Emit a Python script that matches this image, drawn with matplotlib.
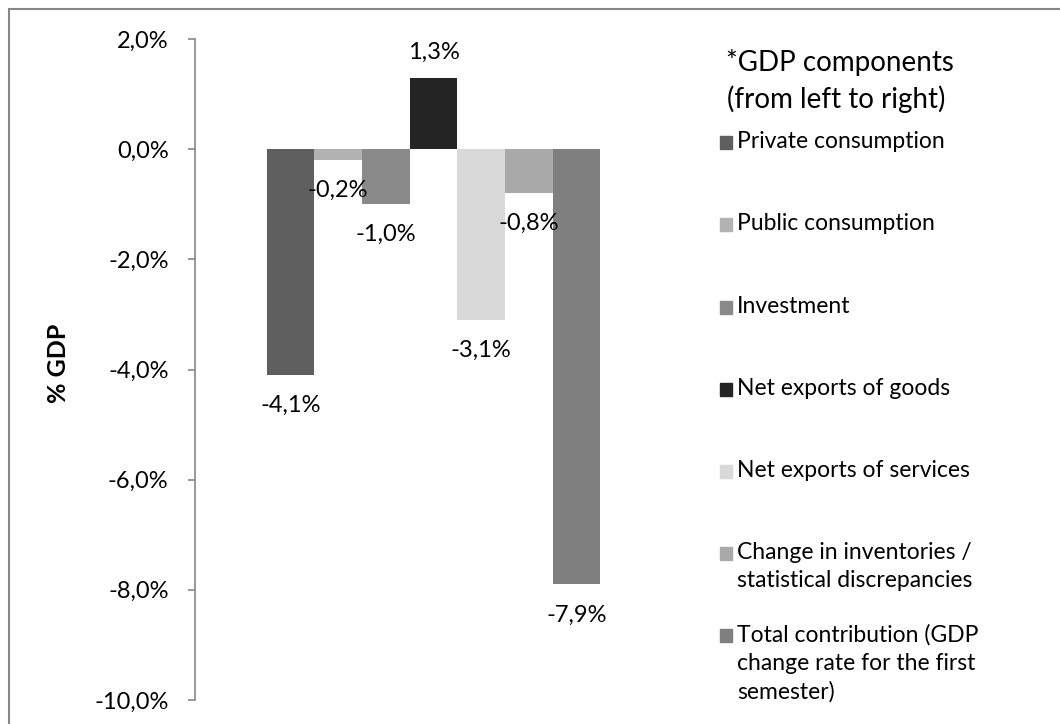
import matplotlib.pyplot as plt
from matplotlib.patches import Rectangle

components = ["Private consumption", "Public consumption", "Investment",
              "Net exports of goods", "Net exports of services",
              "Change in inventories /\nstatistical discrepancies",
              "Total contribution (GDP\nchange rate for the first\nsemester)"]
values = [-4.1, -0.2, -1.0, 1.3, -3.1, -0.8, -7.9]
colors = ["#5f5f5f", "#b2b2b2", "#898989", "#242424", "#d9d9d9", "#a9a9a9", "#7f7f7f"]
yticks = [-10, -8, -6, -4, -2, 0, 2]

plt.rcParams['font.family'] = ['Lato', 'DejaVu Sans']

W, H = 1060, 724
fig = plt.figure(figsize=(W / 100, H / 100), dpi=100)
ax = fig.add_axes([195 / W, 1 - 700 / H, 477 / W, 661 / H])

for i, v in enumerate(values):
    ax.bar(i, v, width=1.0, color=colors[i], label=components[i])
    lab = ("%.1f%%" % v).replace(".", ",")
    if v >= 0:
        ax.annotate(lab, (i, v), xytext=(0, 18), textcoords="offset points",
                    ha="center", va="center", fontsize=17)
    else:
        ax.annotate(lab, (i, v), xytext=(0, -22), textcoords="offset points",
                    ha="center", va="center", fontsize=17)

ax.set_xlim(-2, 8)
ax.set_ylim(-10, 2)
ax.set_yticks(yticks)
ax.set_yticklabels([("%.1f%%" % t).replace(".", ",") for t in yticks], fontsize=17)
ax.set_xticks([])
for s in ["top", "right", "bottom"]:
    ax.spines[s].set_visible(False)
ax.spines["left"].set_color("#868686")
ax.spines["left"].set_linewidth(1.2)
ax.tick_params(axis="y", direction="out", length=5, width=1.2, color="#868686", pad=14)
ax.set_ylabel("% GDP", fontsize=18, fontweight="bold")
ax.yaxis.set_label_coords(-0.262, 0.51)

# legend drawn by hand, Excel style
fig.text(840 / W, 1 - 62 / H, "*GDP components", ha="center", va="center", fontsize=20)
fig.text(836 / W, 1 - 99 / H, "(from left to right)", ha="center", va="center", fontsize=20)
ys = [142, 224, 307, 389, 471, 553, 635]
for name, c, y in zip(components, colors, ys):
    fig.patches.append(Rectangle((720 / W, 1 - (y + 7) / H), 12 / W, 13 / H,
                                 color=c, transform=fig.transFigure))
    fig.text(737 / W, 1 - (y - 11) / H, name, ha="left", va="top",
             fontsize=16.5, linespacing=1.42)

fig.patches.append(Rectangle((9 / W, -0.1), 2, 1 - 9 / H + 0.1, fill=False,
                             edgecolor="#868686", linewidth=1.5,
                             transform=fig.transFigure))

fig.savefig("out.png", dpi=100)
